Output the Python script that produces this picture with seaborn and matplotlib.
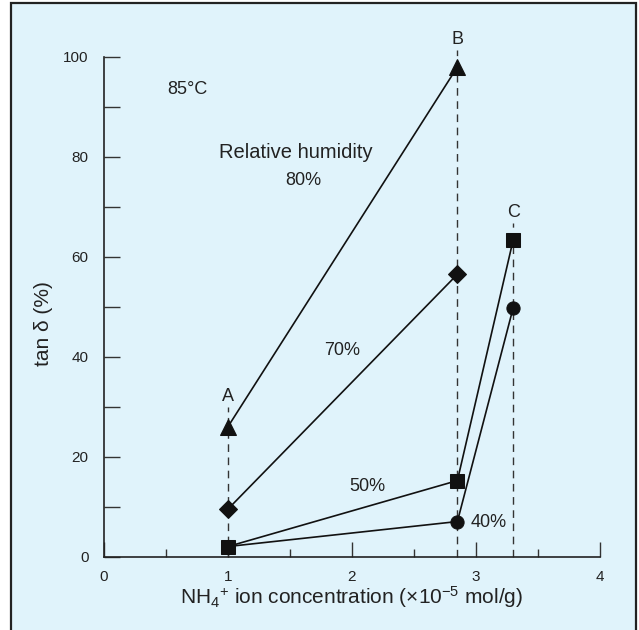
import matplotlib
matplotlib.use("Agg")
import matplotlib.pyplot as plt
from matplotlib.patches import Rectangle
import seaborn as sns

# ---- data ----
rh80_x = [1.0, 2.85]
rh80_y = [26.0, 98.0]
rh70_x = [1.0, 2.85]
rh70_y = [9.5, 56.5]
rh50_x = [1.0, 2.85, 3.3]
rh50_y = [2.0, 15.2, 63.4]
rh40_x = [1.0, 2.85, 3.3]
rh40_y = [2.0, 7.0, 49.8]

ref_names = ["A", "B", "C"]
ref_x = [1.0, 2.85, 3.3]
ref_top = [30.0, 101.5, 66.8]

x_ticks = [0, 1, 2, 3, 4]
x_minor = [0.5, 1.5, 2.5, 3.5]
y_ticks = [0, 20, 40, 60, 80, 100]
y_minor = [10, 30, 50, 70, 90]

sns.set_style("ticks")
plt.rcParams["font.family"] = ["Liberation Sans", "DejaVu Sans"]
plt.rcParams["mathtext.fontset"] = "custom"
plt.rcParams["mathtext.rm"] = "Liberation Sans"
plt.rcParams["mathtext.it"] = "Liberation Sans:italic"
plt.rcParams["mathtext.bf"] = "Liberation Sans:bold"

fig = plt.figure(figsize=(6.39, 6.30), dpi=100, facecolor="white")
fig.add_artist(Rectangle((11 / 639, -0.02), (636 - 11) / 639, 1.02 - 3 / 630,
                         transform=fig.transFigure, facecolor="#e0f3fb",
                         edgecolor="#222222", linewidth=1.6, zorder=0))
ax = fig.add_axes([104 / 639, 1 - 556.5 / 630, (600 - 104) / 639, (556.5 - 57) / 630])
ax.set_facecolor("none")

ink = "#111111"

# reference dashed lines
for xv, top in zip(ref_x, ref_top):
    ax.plot([xv, xv], [0, top], color="#333333", lw=1.0,
            linestyle=(0, (5.5, 4)), zorder=1, clip_on=False)

common = dict(color=ink, linewidth=1.2, sort=False, ax=ax, markeredgecolor=ink,
              clip_on=False, legend=False)
sns.lineplot(x=rh40_x, y=rh40_y, marker="o", markersize=9.5, markevery=[1, 2], **common)
sns.lineplot(x=rh50_x, y=rh50_y, marker="s", markersize=9.5, **common)
sns.lineplot(x=rh70_x, y=rh70_y, marker="D", markersize=8.7, **common)
sns.lineplot(x=rh80_x, y=rh80_y, marker="^", markersize=11, **common)
for ln in ax.lines:
    if ln.get_marker() not in (None, "None", ""):
        ln.set_zorder(3)

ax.set_xlim(0, 4)
ax.set_ylim(0, 100)
sns.despine(ax=ax)
for s in ("left", "bottom"):
    ax.spines[s].set_color("#222222")
    ax.spines[s].set_linewidth(1.2)

ax.set_xticks(x_ticks)
ax.set_xticks(x_minor, minor=True)
ax.set_yticks(y_ticks)
ax.set_yticks(y_minor, minor=True)
ax.tick_params(axis="x", which="major", direction="in", length=10.5, width=1,
               color="#333333", labelsize=11, labelcolor="#222222", pad=10)
ax.tick_params(axis="x", which="minor", direction="in", length=6, width=1, color="#333333")
ax.tick_params(axis="y", which="both", direction="in", length=11.5, width=1,
               color="#333333", labelsize=11, labelcolor="#222222", pad=11)

ax.set_xlabel(r"NH$_4$$^{+}$ ion concentration ($\times$10$^{-5}$ mol/g)",
              fontsize=15, color="#222222", labelpad=0)
ax.set_ylabel("tan δ (%)", fontsize=15, color="#222222")
ax.yaxis.set_label_coords(-0.103, 0.466)

tk = dict(color="#222222", ha="center", va="center", clip_on=False)
ax.text(0.67, 93.4, "85°C", fontsize=13, **tk)
ax.text(1.55, 80.9, "Relative humidity", fontsize=14.5, **tk)
ax.text(1.61, 75.2, "80%", fontsize=13, **tk)
ax.text(1.92, 41.3, "70%", fontsize=13, **tk)
ax.text(2.12, 14.1, "50%", fontsize=13, **tk)
ax.text(3.10, 6.8, "40%", fontsize=13, **tk)
label_y = [32.1, 103.6, 68.9]
for name, xv, yv in zip(ref_names, ref_x, label_y):
    ax.text(xv, yv, name, fontsize=13, **tk)

fig.savefig("out.png", dpi=100, facecolor="white")
